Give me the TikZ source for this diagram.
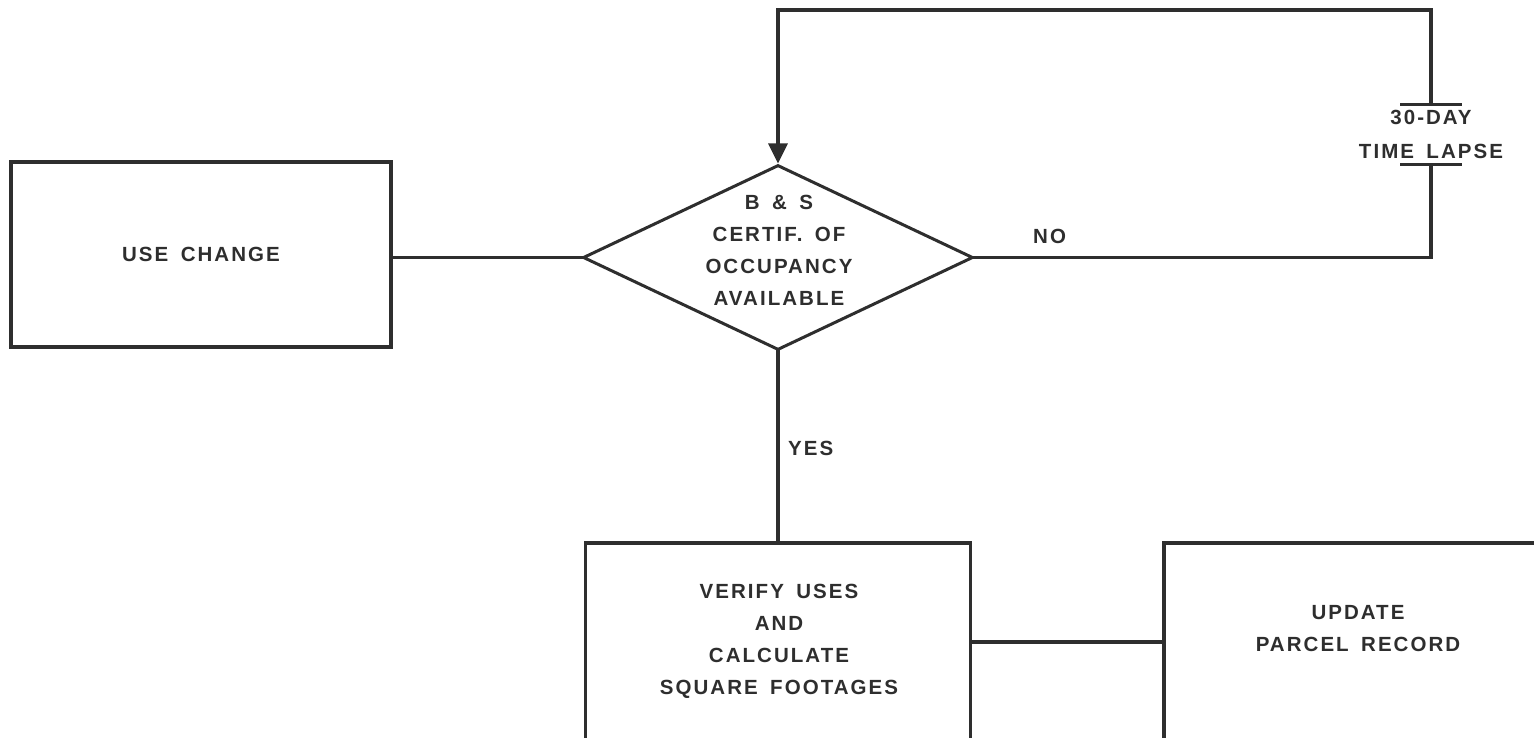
\documentclass[tikz,border=0pt]{standalone}
\usepackage{fontspec}
\setmainfont{Liberation Sans}
\newfontfamily\lettering[LetterSpace=10,WordSpace=1.6]{Liberation Sans Bold}
\usetikzlibrary{arrows.meta,shapes.geometric}
\definecolor{ink}{HTML}{2E2E2E}
\tikzset{
  line/.style={draw=ink,line width=3.2pt,line cap=rect},
  box/.style={draw=ink,line width=3.2pt,rectangle,inner sep=0pt},
  dec/.style={draw=ink,line width=3pt,shape=diamond,inner sep=0pt,minimum width=390pt,minimum height=185pt},
  txt/.style={text=ink,font=\fontsize{20.5}{32}\selectfont\lettering,align=center,inner sep=0pt},
  lbl/.style={text=ink,font=\fontsize{20.5}{32}\selectfont\lettering,inner sep=0pt},
}
\begin{document}
\begin{tikzpicture}[x=1pt,y=-1pt]
\useasboundingbox (0,0) rectangle (1534,738);
\clip (0,0) rectangle (1534,738);
\fill[white] (0,0) rectangle (1534,738);
% nodes
\node[box,minimum width=380pt,minimum height=185pt] (uc) at (201,254.5) {};
\node[txt] (uct) at (201,254) {USE CHANGE};
\node[dec] (d) at (778,257.5) {};
\node[txt] (dt) at (779,250) {B \& S\\CERTIF. OF\\OCCUPANCY\\AVAILABLE};
\node[box,minimum width=385pt,minimum height=198pt] (v) at (778,642) {};
\node[txt] (vt) at (779,641.5) {VERIFY USES\\AND\\CALCULATE\\SQUARE FOOTAGES};
\node[box,minimum width=400pt,minimum height=198pt] (up) at (1364,642) {};
\node[txt] (upt) at (1358,629) {UPDATE\\PARCEL RECORD};
\node[txt,minimum height=60pt,minimum width=62pt,font=\fontsize{20.5}{34}\selectfont\lettering] (tl) at (1431,134.5) {30-DAY\\TIME LAPSE};
\coordinate (tc) at (1431,10);
% bars of the time lapse
\draw[line,line cap=butt] ([xshift=-31pt]tl.north) -- ([xshift=31pt]tl.north);
\draw[line,line cap=butt] ([xshift=-31pt]tl.south) -- ([xshift=31pt]tl.south);
% connectors
\draw[line] (d.west -| uc.east) -- (d.west);
\draw[line] (d.east) -- (d.east -| tl.south) -- (tl.south);
\draw[line,line cap=butt,-{Triangle[width=19pt,length=20pt]}] (tl.north) -- (tc) -| (d.north);
\draw[line] (d.south) -- (d.south |- v.north);
\draw[line] (v.east) -- (up.west);
% labels
\node[lbl,anchor=west] (no) at (1033,236) {NO};
\node[lbl,anchor=west] (yes) at (788,448) {YES};
\end{tikzpicture}
\end{document}
